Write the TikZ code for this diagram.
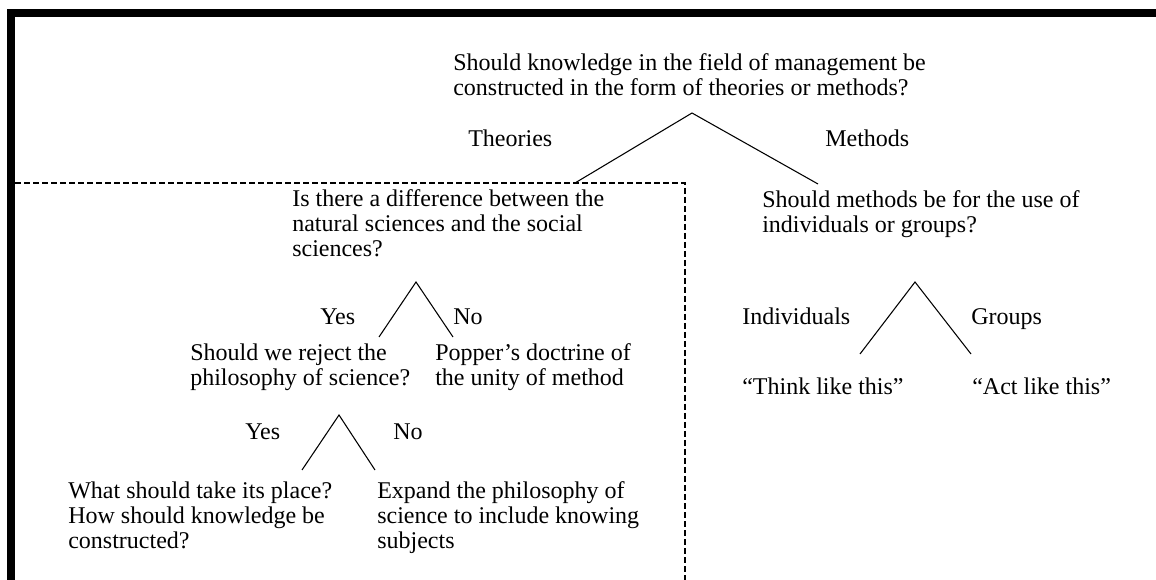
\documentclass[tikz,border=0pt]{standalone}
\usepackage{fontspec}
\setmainfont{Liberation Serif}
\begin{document}
\begin{tikzpicture}[x=0.75pt,y=-0.75pt,
  txt/.style={anchor=base west, inner sep=0pt, align=left, font=\fontsize{18}{18.75}\selectfont},
  fork/.style={line width=0.8pt, black},
  dbox/.style={line width=1.1pt, dash pattern=on 4.5pt off 2.25pt}]
\useasboundingbox (0,0) rectangle (1156,580);
% thick frame (top and left)
\fill (7,9) rectangle (1156,17);
\fill (7,9) rectangle (15,580);
% dashed region
\draw[dbox] (15,183) -- (685,183) -- (685,580);

% texts (multi-line nodes are placed by the baseline of their last line)
\node[txt] (q1) at (453,96) {Should knowledge in the field of management be\\constructed in the form of theories or methods?};
\node[txt] (theo) at (468,147) {Theories};
\node[txt] (meth) at (825,147) {Methods};
\node[txt] (q2) at (292,257) {Is there a difference between the\\natural sciences and the social\\sciences?};
\node[txt] (q3) at (762,233) {Should methods be for the use of\\individuals or groups?};
\node[txt] (yes1) at (320,325) {Yes};
\node[txt] (no1) at (453,325) {No};
\node[txt] (ind) at (742,325) {Individuals};
\node[txt] (grp) at (971,325) {Groups};
\node[txt] (q4) at (190,386) {Should we reject the\\philosophy of science?};
\node[txt] (pop) at (435,386) {Popper’s doctrine of\\the unity of method};
\node[txt] (think) at (742,395) {“Think like this”};
\node[txt] (act) at (972,395) {“Act like this”};
\node[txt] (yes2) at (245,440) {Yes};
\node[txt] (no2) at (393,440) {No};
\node[txt] (q5) at (68,548) {What should take its place?\\How should knowledge be\\constructed?};
\node[txt] (exp) at (377,548) {Expand the philosophy of\\science to include knowing\\subjects};

% forks
\coordinate (a1) at (692,113); \coordinate (l1) at (575,183); \coordinate (r1) at (818,184);
\draw[fork] (l1) -- (a1) -- (r1);
\coordinate (a2) at (416,282); \coordinate (l2) at (379,337); \coordinate (r2) at (453,337);
\draw[fork] (l2) -- (a2) -- (r2);
\coordinate (a3) at (339,415); \coordinate (l3) at (302,470); \coordinate (r3) at (375,470);
\draw[fork] (l3) -- (a3) -- (r3);
\coordinate (a4) at (915,282); \coordinate (l4) at (860,354); \coordinate (r4) at (971,354);
\draw[fork] (l4) -- (a4) -- (r4);
\end{tikzpicture}
\end{document}
